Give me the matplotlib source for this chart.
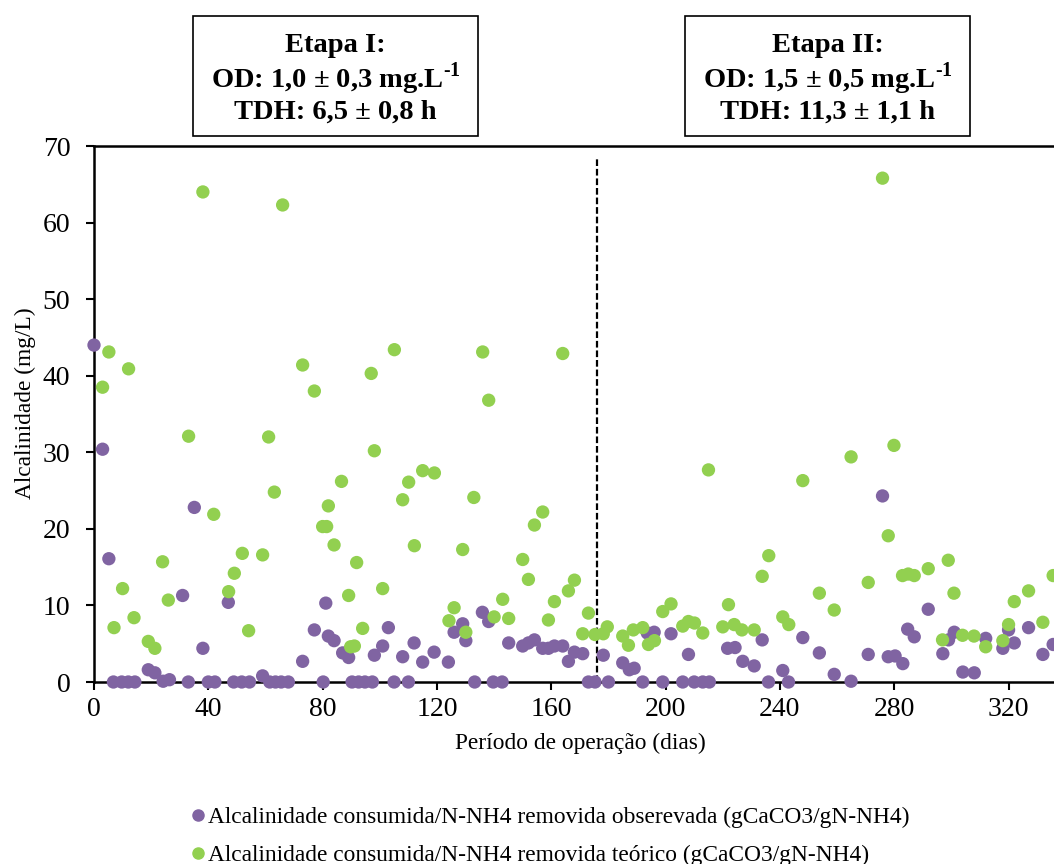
import matplotlib
matplotlib.use("Agg")
import matplotlib.pyplot as plt
from matplotlib.patches import Rectangle
from matplotlib.lines import Line2D

plt.rcParams['font.family'] = ['Liberation Serif', 'DejaVu Serif']
plt.rcParams['mathtext.fontset'] = 'custom'
plt.rcParams['mathtext.rm'] = 'Liberation Serif:bold'

# Alcalinidade observada (dia, valor)
dias_obs = [0, 3.0, 5.2, 6.8, 9.7, 12.0, 14.3, 19.0, 21.3, 24.2, 26.4, 31.0, 33.0, 35.1,
            38.1, 40.0, 42.3, 47.0, 48.9, 51.7, 54.4, 59.0, 61.5, 63.5, 65.5, 68.0, 73.0,
            77.1, 80.2, 81.1, 82.0, 84.0, 87.0, 89.1, 90.3, 92.6, 94.8, 97.4, 98.1, 101.0,
            103.0, 105.0, 108.0, 110.0, 112.0, 115.0, 119.0, 124.0, 126.0, 129.0, 130.1,
            133.2, 135.9, 138.1, 139.7, 142.8, 145.1, 150.0, 152.0, 154.1, 157.0, 159.0,
            161.1, 164.0, 166.0, 168.1, 171.0, 173.0, 175.3, 178.2, 180.0, 185.0, 187.3,
            189.0, 192.0, 193.6, 196.0, 199.0, 201.9, 206.0, 208.0, 210.0, 213.0, 215.3,
            221.7, 224.3, 227.0, 231.0, 233.8, 236.0, 241.0, 243.0, 248.0, 253.8, 259.0,
            264.9, 270.9, 275.9, 277.9, 280.3, 283.0, 284.7, 287.0, 291.9, 297.0, 299.0,
            301.0, 304.0, 308.0, 312.0, 318.0, 320.0, 322.0, 327.0, 332.0, 335.6]
alc_obs = [44.0, 30.4, 16.1, 0, 0, 0, 0, 1.6, 1.2, 0.1, 0.3, 11.3, 0, 22.8,
           4.4, 0, 0, 10.4, 0, 0, 0, 0.8, 0, 0, 0, 0, 2.7,
           6.8, 0, 10.3, 6.0, 5.4, 3.8, 3.2, 0, 0, 0, 0, 3.5, 4.7,
           7.1, 0, 3.3, 0, 5.1, 2.6, 3.9, 2.6, 6.5, 7.6, 5.4,
           0, 9.1, 7.9, 0, 0, 5.1, 4.7, 5.1, 5.5, 4.4, 4.4,
           4.7, 4.7, 2.7, 3.9, 3.7, 0, 0, 3.5, 0, 2.5, 1.6,
           1.8, 0, 6.4, 6.5, 0, 6.3, 0, 3.6, 0, 0, 0,
           4.4, 4.5, 2.7, 2.1, 5.5, 0, 1.5, 0, 5.8, 3.8, 1.0,
           0.1, 3.6, 24.3, 3.3, 3.4, 2.4, 6.9, 5.9, 9.5, 3.7, 5.5,
           6.5, 1.3, 1.2, 5.7, 4.4, 6.8, 5.1, 7.1, 3.6, 4.9]

# Alcalinidade teorica (dia, valor)
dias_teo = [3.0, 5.2, 7.0, 10.0, 12.1, 14.0, 19.0, 21.3, 24.0, 26.0, 33.1, 38.1, 41.9,
            47.1, 49.1, 51.9, 54.1, 59.0, 61.1, 63.1, 66.0, 73.0, 77.1, 80.0, 81.4, 82.0,
            84.0, 86.6, 89.1, 89.8, 91.1, 91.9, 94.0, 97.0, 98.1, 101.0, 105.1, 108.0,
            110.1, 112.1, 115.0, 119.1, 124.2, 126.0, 129.0, 130.1, 132.9, 136.0, 138.1,
            140.0, 143.0, 145.1, 150.0, 152.0, 154.1, 157.0, 159.0, 161.1, 164.0, 166.0,
            168.1, 171.0, 173.0, 175.3, 178.2, 179.6, 185.0, 187.0, 188.7, 192.0, 194.0,
            196.1, 199.0, 201.9, 206.0, 208.0, 210.1, 213.0, 215.0, 220.0, 222.0, 224.0,
            226.7, 231.0, 233.8, 236.1, 241.0, 243.1, 248.0, 253.8, 259.0, 264.9, 270.9,
            275.9, 277.9, 279.9, 282.9, 284.9, 287.0, 291.9, 296.9, 298.9, 300.9, 303.9,
            307.9, 312.0, 318.0, 320.0, 322.0, 327.0, 332.0, 335.6]
alc_teo = [38.5, 43.1, 7.1, 12.2, 40.9, 8.4, 5.3, 4.4, 15.7, 10.7, 32.1, 64.0, 21.9,
           11.8, 14.2, 16.8, 6.7, 16.6, 32.0, 24.8, 62.3, 41.4, 38.0, 20.3, 20.3, 23.0,
           17.9, 26.2, 11.3, 4.6, 4.7, 15.6, 7.0, 40.3, 30.2, 12.2, 43.4, 23.8,
           26.1, 17.8, 27.6, 27.3, 8.0, 9.7, 17.3, 6.5, 24.1, 43.1, 36.8,
           8.5, 10.8, 8.3, 16.0, 13.4, 20.5, 22.2, 8.1, 10.5, 42.9, 11.9,
           13.3, 6.3, 9.0, 6.2, 6.3, 7.2, 6.0, 4.8, 6.8, 7.1, 4.9,
           5.4, 9.2, 10.2, 7.3, 7.9, 7.7, 6.4, 27.7, 7.2, 10.1, 7.5,
           6.8, 6.8, 13.8, 16.5, 8.5, 7.5, 26.3, 11.6, 9.4, 29.4, 13.0,
           65.8, 19.1, 30.9, 13.9, 14.1, 13.9, 14.8, 5.5, 15.9, 11.6, 6.1,
           6.0, 4.6, 5.4, 7.5, 10.5, 11.9, 7.8, 13.9]

dia_troca = 176
roxo = '#8064A2'
verde = '#92D050'

fig = plt.figure(figsize=(10.54, 8.64), dpi=100)
ax = fig.add_axes([94 / 1054, 182 / 864, 350 * 2.858 / 1054, 536 / 864])

ax.scatter(dias_obs, alc_obs, s=92, color=roxo, edgecolors='none', zorder=3, clip_on=False)
ax.scatter(dias_teo, alc_teo, s=92, color=verde, edgecolors='none', zorder=4, clip_on=False)
ax.plot([dia_troca, dia_troca], [0, 68.5], color='black', lw=1.6, ls=(0, (3, 1.3)), zorder=2)

ax.set_xlim(0, 350)
ax.set_ylim(0, 70)
ax.set_xticks(range(0, 350, 40))
ax.set_yticks(range(0, 71, 10))
ax.tick_params(axis='both', direction='out', length=6, width=1.5, labelsize=20)
ax.tick_params(axis='y', pad=11)
ax.tick_params(axis='x', pad=5)
for s in ax.spines.values():
    s.set_linewidth(1.8)

ax.set_xlabel('Período de operação (dias)', fontsize=16.8)
ax.xaxis.set_label_coords((580 - 94) / (350 * 2.858), -0.095)
ax.set_ylabel('Alcalinidade (mg/L)', fontsize=16.8)
ax.yaxis.set_label_coords(-0.058, 0.52)

# Caixas das etapas
caixas = [
    (193, 478, ['Etapa I:', r'OD: 1,0 ± 0,3 mg.L$^{\text{-1}}$', 'TDH: 6,5 ± 0,8 h']),
    (685, 970, ['Etapa II:', r'OD: 1,5 ± 0,5 mg.L$^{\text{-1}}$', 'TDH: 11,3 ± 1,1 h']),
]
for x0, x1, linhas in caixas:
    fig.patches.append(Rectangle((x0 / 1054, 1 - 136 / 864), (x1 - x0) / 1054, 120 / 864,
                                 transform=fig.transFigure, fill=False, ec='black', lw=1.2))
    xc = (x0 + x1) / 2 / 1054
    for yy, t in zip([46, 79, 112], linhas):
        fig.text(xc, 1 - yy / 864, t, ha='center', va='center', fontsize=20.5,
                 fontweight='bold')

handles = [Line2D([], [], ls='none', marker='o', ms=8, color=roxo),
           Line2D([], [], ls='none', marker='o', ms=8, color=verde)]
labels = ['Alcalinidade consumida/N-NH4 removida obserevada (gCaCO3/gN-NH4)',
          'Alcalinidade consumida/N-NH4 removida teórico (gCaCO3/gN-NH4)']
fig.legend(handles, labels, loc='upper left', bbox_to_anchor=(182 / 1054, 1 - 797 / 864),
           frameon=False, fontsize=16.8, handlelength=0.6, handletextpad=0.12,
           labelspacing=0.72, borderaxespad=0)

fig.savefig('out.png', dpi=100)
